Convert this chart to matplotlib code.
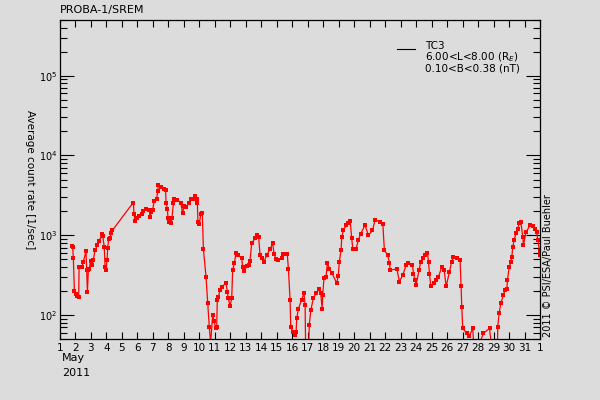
import numpy as np
import matplotlib.pyplot as plt
from matplotlib.ticker import FixedLocator, LogLocator, NullFormatter

# PROBA-1/SREM, TC3, mayo 2011 (dia del mes, tasa de conteo en 1/sec)
dias = [1.75, 1.82, 1.86, 1.93, 2.01, 2.12, 2.21, 2.23, 2.40, 2.51, 2.68, 2.72, 2.77, 2.83,
        2.89, 2.98, 3.07, 3.15, 3.26, 3.41, 3.54, 3.69, 3.76, 3.86, 3.91, 3.97, 4.04, 4.08,
        4.14, 4.23, 4.29, 4.38, 5.69, 5.74, 5.78, 5.84, 5.95, 6.12, 6.27, 6.34, 6.55, 6.77,
        6.81, 6.90, 6.98, 7.09, 7.24, 7.31, 7.35, 7.50, 7.72, 7.82, 7.85, 7.93, 7.98, 8.06,
        8.15, 8.23, 8.32, 8.38, 8.58, 8.79, 8.92, 9.01, 9.14, 9.31, 9.44, 9.61, 9.70, 9.83,
        9.87, 9.91, 10.0, 10.09, 10.19, 10.26, 10.43, 10.54, 10.64, 10.73,
        10.86, 10.95, 11.07, 11.12, 11.16, 11.23, 11.33, 11.44, 11.72, 11.81, 11.87, 11.98,
        12.09, 12.15, 12.26, 12.37, 12.52, 12.74, 12.8, 12.9, 13.06, 13.23, 13.27, 13.38,
        13.6, 13.75, 13.83, 13.92, 14.03, 14.18, 14.35, 14.57, 14.74, 14.82, 14.95, 15.1,
        15.31, 15.38, 15.68, 15.75, 15.86, 15.9, 16.03, 16.18, 16.25, 16.29, 16.4, 16.6,
        16.76, 16.83, 16.87, 17.04, 17.1, 17.2, 17.36, 17.54, 17.73, 17.84, 17.93, 17.97,
        18.05, 18.18, 18.27, 18.4, 18.55, 18.87, 18.97, 19.04, 19.15, 19.2, 19.3, 19.48,
        19.63, 19.74, 19.84, 19.91, 20.12, 20.27, 20.42, 20.7, 20.92, 21.18, 21.35, 21.67,
        21.85, 21.95, 22.17, 22.28, 22.32, 22.75, 22.92, 23.14, 23.35, 23.46, 23.76, 23.83,
        23.93, 24.0, 24.19, 24.3, 24.43, 24.58, 24.73, 24.8, 24.86, 24.95, 25.18, 25.29,
        25.44, 25.66, 25.81, 25.94, 26.15, 26.3, 26.41, 26.67, 26.84, 26.9, 26.95, 27.01,
        27.27, 27.44, 27.66, 27.75, 28.35, 28.74, 28.95, 29.25, 29.27, 29.36, 29.47, 29.64,
        29.73, 29.86, 29.9, 30.01, 30.12, 30.18, 30.24, 30.33, 30.46, 30.55, 30.67, 30.76,
        30.89, 30.93, 31.1, 31.36, 31.54, 31.69, 31.79, 31.86, 31.97, 32.0]
tasa = [724, 708, 525, 200, 182, 174, 166, 398, 398, 468, 631, 363, 195, 363,
        380, 479, 422, 490, 646, 750, 851, 1023, 977, 708, 398, 363, 490, 692,
        891, 912, 1072, 1148, 2512, 2512, 1862, 1514, 1622, 1738, 1862, 2042, 2113, 2089,
        1698, 1950, 2089, 2692, 2884, 3548, 4217, 3981, 3802, 3715, 2570, 2138, 1622, 1479,
        1413, 1622, 2512, 2818, 2754, 2570, 1905, 2344, 2239, 2512, 2818, 2884, 3090, 2884,
        2512, 1479, 1380, 1862, 1905, 676, 302, 141, 71, 45,
        100, 83, 68, 71, 155, 170, 204, 224, 251, 195, 162, 129,
        162, 363, 447, 603, 562, 513, 398, 355, 407, 422, 479, 794,
        912, 1000, 955, 562, 513, 468, 562, 676, 794, 589, 501, 490,
        513, 589, 575, 380, 155, 71, 62, 56, 62, 91, 120, 155,
        186, 132, 30, 30, 75, 115, 162, 186, 209, 186, 120, 178,
        295, 302, 447, 380, 339, 251, 309, 468, 646, 955, 1148, 1334,
        1413, 1514, 912, 676, 676, 871, 1047, 1334, 1000, 1148, 1549, 1479,
        1380, 646, 562, 447, 363, 380, 263, 316, 422, 447, 427, 331,
        275, 240, 363, 468, 513, 562, 603, 468, 331, 229, 251, 275,
        302, 398, 363, 229, 347, 468, 537, 513, 490, 229, 126, 68,
        59, 55, 68, 30, 59, 68, 30, 30, 71, 105, 141, 178,
        204, 214, 275, 398, 468, 537, 708, 871, 1072, 1202, 1413, 1479,
        955, 750, 1096, 1334, 1288, 1202, 1096, 871, 631, 562]

pos_dias = np.arange(1, 33)
etiquetas_dias = [str(d) for d in range(1, 32)] + ['1']
pos_y = [1e2, 1e3, 1e4, 1e5]
etiquetas_y = [r'10$^{2}$', r'10$^{3}$', r'10$^{4}$', r'10$^{5}$']

fondo = '#dcdcdc'
plt.rcParams['font.family'] = 'DejaVu Sans'
plt.rcParams['font.size'] = 7.5

fig = plt.figure(figsize=(6, 4), dpi=100, facecolor=fondo)
ax = fig.add_axes([0.1, 0.1525, 0.8, 0.7975], facecolor=fondo)

ax.plot(dias, tasa, '-s', color='red', lw=0.9, ms=2.2, mew=0)

ax.set_yscale('log')
ax.set_xlim(1, 32)
ax.set_ylim(50, 5e5)

ax.xaxis.set_major_locator(FixedLocator(pos_dias))
ax.set_xticklabels(etiquetas_dias)
ax.yaxis.set_major_locator(FixedLocator(pos_y))
ax.set_yticklabels(etiquetas_y, fontsize=7)
ax.yaxis.set_minor_locator(LogLocator(base=10, subs=np.arange(2, 10)))
ax.yaxis.set_minor_formatter(NullFormatter())

ax.tick_params(axis='both', which='both', direction='in', top=True, right=True,
               colors='black', width=0.8)
ax.tick_params(axis='x', which='major', length=5, pad=3)
ax.tick_params(axis='y', which='major', length=10, pad=2)
ax.tick_params(axis='y', which='minor', length=5)
for s in ax.spines.values():
    s.set_linewidth(0.9)

# leyenda
ax.plot([0.702, 0.740], [0.91, 0.91], color='black', lw=0.8, transform=ax.transAxes)
ax.text(0.760, 0.935, 'TC3\n6.00<L<8.00 (R$_E$)\n0.10<B<0.38 (nT)',
        transform=ax.transAxes, va='top', ha='left', fontsize=7.5, linespacing=0.95)

fig.text(0.1, 0.975, 'PROBA-1/SREM', ha='left', va='center', fontsize=8)
fig.text(30 / 600, 0.55, 'Average count rate [1/sec]', rotation=270,
         ha='center', va='center', fontsize=7.5)
fig.text(0.103, 1 - 358 / 400, 'May', ha='left', va='center', fontsize=8)
fig.text(0.103, 1 - 373 / 400, '2011', ha='left', va='center', fontsize=8)
fig.text(548 / 600, 1 - 337 / 400, '2011 \u00a9 PSI/ESA/Paul Buehler', rotation=90,
         ha='center', va='bottom', fontsize=7)

fig.savefig('out.png', dpi=100, facecolor=fondo)
